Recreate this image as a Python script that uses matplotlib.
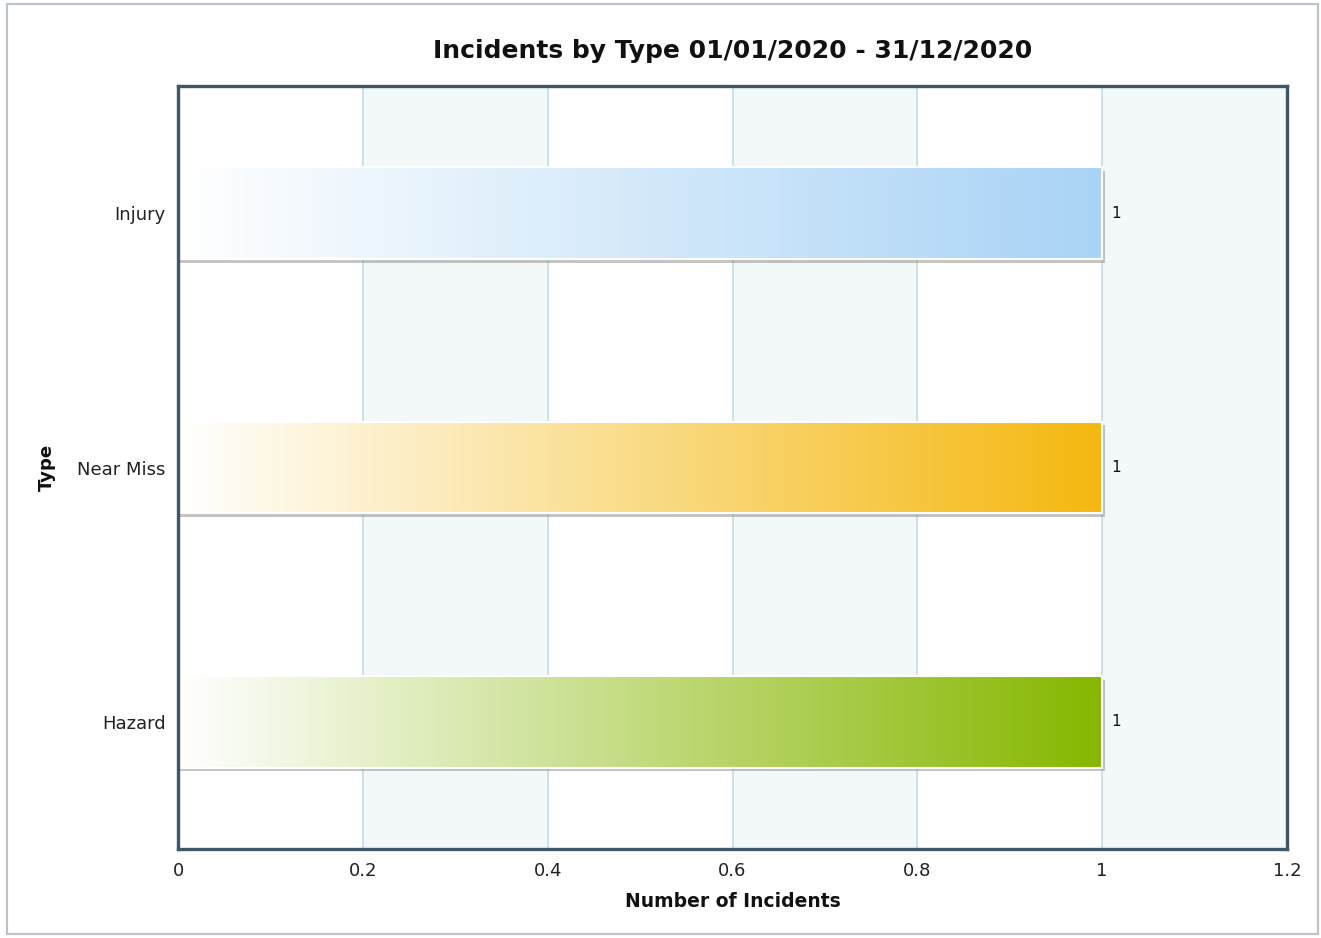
import numpy as np
import matplotlib
matplotlib.use("Agg")
import matplotlib.pyplot as plt
from matplotlib.colors import to_rgb
from matplotlib.patches import Rectangle

categories = ["Hazard", "Near Miss", "Injury"]
counts = [1, 1, 1]
bar_colors = ["#86b700", "#f5b80f", "#a9d3f6"]
x_ticks = [0, 0.2, 0.4, 0.6, 0.8, 1.0, 1.2]
x_tick_labels = ["0", "0.2", "0.4", "0.6", "0.8", "1", "1.2"]

plt.rcParams["font.family"] = ["DejaVu Sans"]

fig = plt.figure(figsize=(13.21, 9.38), dpi=100)
ax = fig.add_axes([178 / 1321, 1 - 849 / 938, (1287 - 178) / 1321, (849 - 86) / 938])

# outer frame around the whole chart
fig.patches.append(Rectangle((7 / 1321, 4 / 938), 1311 / 1321, 930 / 938,
                             transform=fig.transFigure, fill=False,
                             edgecolor="#bcc3cb", linewidth=1.6))

ax.set_xlim(0, 1.2)
ax.set_ylim(-0.5, len(categories) - 0.5)

# alternating bands and grid lines
for i in range(len(x_ticks) - 1):
    if i % 2 == 1:
        ax.axvspan(x_ticks[i], x_ticks[i + 1], color="#f3f9f9", zorder=0, lw=0)
for t in x_ticks[1:-1]:
    ax.axvline(t, color="#c6e0e3", lw=1.3, zorder=1)

bar_h = 0.36
for y, (cat, val, col) in enumerate(zip(categories, counts, bar_colors)):
    # soft shadow under the bar
    ax.add_patch(Rectangle((0.0, y - bar_h / 2 - 0.014), val + 0.003, bar_h,
                           facecolor="#8a8a8a", alpha=0.5, lw=0, zorder=2))
    rgb = np.array(to_rgb(col))
    t = np.linspace(0, 1, 256)[:, None]
    grad = (1 - t) * np.ones(3) + t * rgb
    ax.imshow(grad[None, :, :], extent=[0, val, y - bar_h / 2, y + bar_h / 2],
              aspect="auto", interpolation="bilinear", zorder=3)
    ax.add_patch(Rectangle((0, y - bar_h / 2), val, bar_h, fill=False,
                           edgecolor="white", lw=1.5, zorder=4))
    ax.text(val + 0.01, y, str(val), va="center", ha="left",
            fontsize=11, color="#111111", zorder=5)

ax.set_xlim(0, 1.2)
ax.set_ylim(-0.5, len(categories) - 0.5)

ax.set_xticks(x_ticks)
ax.set_xticklabels(x_tick_labels)
ax.set_yticks(range(len(categories)))
ax.set_yticklabels(categories)
ax.tick_params(axis="both", length=0, labelsize=13, colors="#222222")
ax.tick_params(axis="x", pad=9)
ax.tick_params(axis="y", pad=9)

for s in ax.spines.values():
    s.set_color("#3f5668")
    s.set_linewidth(2.4)
    s.set_zorder(6)

ax.set_xlabel("Number of Incidents", fontsize=13.5, fontweight="bold",
              color="#111111", labelpad=9)
ax.set_ylabel("Type", fontsize=13, fontweight="bold", color="#111111")
ax.yaxis.set_label_coords(-0.11, 0.5)
ax.set_title("Incidents by Type 01/01/2020 - 31/12/2020", fontsize=18,
             fontweight="bold", color="#111111", pad=20)

fig.savefig("out.png", dpi=100)
